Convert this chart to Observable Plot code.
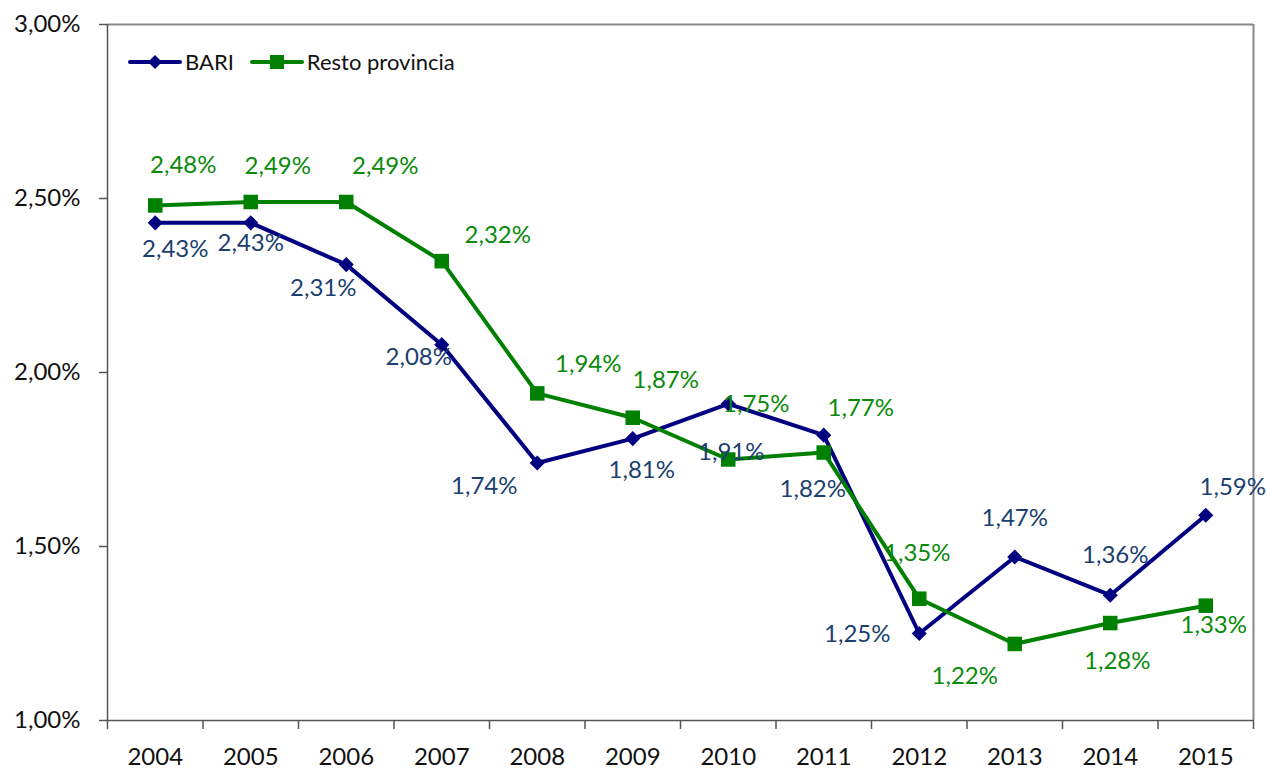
<!DOCTYPE html>
<html>
<head>
<meta charset="utf-8">
<script src="https://cdn.jsdelivr.net/npm/d3@7"></script>
<script src="https://cdn.jsdelivr.net/npm/@observablehq/plot@0.6"></script>
<style>
  html, body { margin: 0; padding: 0; background: #fff; }
  #wrap { position: relative; width: 1267px; height: 769px; font-family: Lato, "Open Sans", sans-serif; }
  #legend { position: absolute; left: 128px; top: 48px; display: flex; align-items: center; font-size: 22px; color: #111; }
  #legend .item { display: flex; align-items: center; margin-right: 16px; }
  #legend svg { margin-right: 3px; }
</style>
</head>
<body>
<div id="wrap">
  <div id="chart"></div>
  <div id="legend"></div>
</div>
<script>
// Data
const years = [2004, 2005, 2006, 2007, 2008, 2009, 2010, 2011, 2012, 2013, 2014, 2015];
const bari = [2.43, 2.43, 2.31, 2.08, 1.74, 1.81, 1.91, 1.82, 1.25, 1.47, 1.36, 1.59];
const resto = [2.48, 2.49, 2.49, 2.32, 1.94, 1.87, 1.75, 1.77, 1.35, 1.22, 1.28, 1.33];
const yTicks = [1.0, 1.5, 2.0, 2.5, 3.0];
const seriesNames = ["BARI", "Resto provincia"];

// Label placement (pixel offsets, layout only)
const bariLabelOffsets = [[20,26],[0,20],[-23,24],[-23,13],[-53,23],[9,32],[3,48],[-11,54],[-62,1],[0,-39],[5,-40],[27,-28]];
const restoLabelOffsets = [[28,-40],[27,-36],[39,-36],[56,-26],[51,-29],[33,-37],[28,-55],[37,-44],[-2,-45],[-50,32],[7,38],[8,20]];

const bariColor = "#000080", bariLabel = "#1b3f6f";
const restoColor = "#008000", restoLabel = "#0a8a0a";

const fmt = v => v.toFixed(2).replace(".", ",") + "%";
const bariData = years.map((y, i) => ({year: y, value: bari[i]}));
const restoData = years.map((y, i) => ({year: y, value: resto[i]}));
const boundaries = years.map(y => y - 0.5).concat([years[years.length - 1] + 0.5]);
const x0 = boundaries[0], x1 = boundaries[boundaries.length - 1];

const labelMarks = [];
bariData.forEach((d, i) => labelMarks.push(Plot.text([d], {x: "year", y: "value", text: d => fmt(d.value), dx: bariLabelOffsets[i][0], dy: bariLabelOffsets[i][1], fill: bariLabel, fontSize: 24})));
restoData.forEach((d, i) => labelMarks.push(Plot.text([d], {x: "year", y: "value", text: d => fmt(d.value), dx: restoLabelOffsets[i][0], dy: restoLabelOffsets[i][1], fill: restoLabel, fontSize: 24})));

const chart = Plot.plot({
  width: 1267,
  height: 769,
  marginLeft: 107,
  marginRight: 14,
  marginTop: 24,
  marginBottom: 49,
  style: {fontFamily: "Lato, 'Open Sans', sans-serif", background: "#fff"},
  x: {type: "linear", domain: [x0, x1], label: null},
  y: {domain: [1.0, 3.0], label: null},
  marks: [
    Plot.ruleY([yTicks[yTicks.length - 1]], {stroke: "#888", strokeWidth: 2}),
    Plot.ruleX([x1], {stroke: "#888", strokeWidth: 2}),
    Plot.axisY({ticks: yTicks, tickSize: 8, tickPadding: 19, tickFormat: fmt, fontSize: 24, fill: "#111", stroke: "#555", strokeWidth: 1.5, label: null}),
    Plot.axisX({ticks: boundaries, tickSize: 9, tickFormat: () => "", stroke: "#555", strokeWidth: 1.5, label: null}),
    Plot.axisX({ticks: years, tickSize: 0, tickPadding: 27, tickFormat: d => String(d), fontSize: 24, fill: "#111", label: null}),
    Plot.ruleX([x0], {stroke: "#555", strokeWidth: 1.5}),
    Plot.ruleY([yTicks[0]], {stroke: "#555", strokeWidth: 1.5}),
    Plot.line(bariData, {x: "year", y: "value", stroke: bariColor, strokeWidth: 4}),
    Plot.dot(bariData, {x: "year", y: "value", symbol: "diamond2", r: 6.8, fill: bariColor, stroke: "none"}),
    Plot.line(restoData, {x: "year", y: "value", stroke: restoColor, strokeWidth: 4}),
    Plot.dot(restoData, {x: "year", y: "value", symbol: "square", r: 8.2, fill: restoColor, stroke: "none"}),
    ...labelMarks
  ]
});
document.getElementById("chart").appendChild(chart);

// Legend
const legend = document.getElementById("legend");
const legendDefs = [
  {name: seriesNames[0], color: bariColor, marker: "diamond"},
  {name: seriesNames[1], color: restoColor, marker: "square"}
];
legendDefs.forEach(def => {
  const item = document.createElement("div");
  item.className = "item";
  const sw = def.marker === "diamond"
    ? `<svg width="54" height="16"><line x1="2" y1="8" x2="52" y2="8" stroke="${def.color}" stroke-width="4" stroke-linecap="round"/><path d="M27,1 L34,8 L27,15 L20,8 Z" fill="${def.color}"/></svg>`
    : `<svg width="54" height="16"><line x1="2" y1="8" x2="52" y2="8" stroke="${def.color}" stroke-width="4" stroke-linecap="round"/><rect x="20" y="1" width="14" height="14" fill="${def.color}"/></svg>`;
  item.innerHTML = sw + `<span>${def.name}</span>`;
  legend.appendChild(item);
});
</script>
</body>
</html>
